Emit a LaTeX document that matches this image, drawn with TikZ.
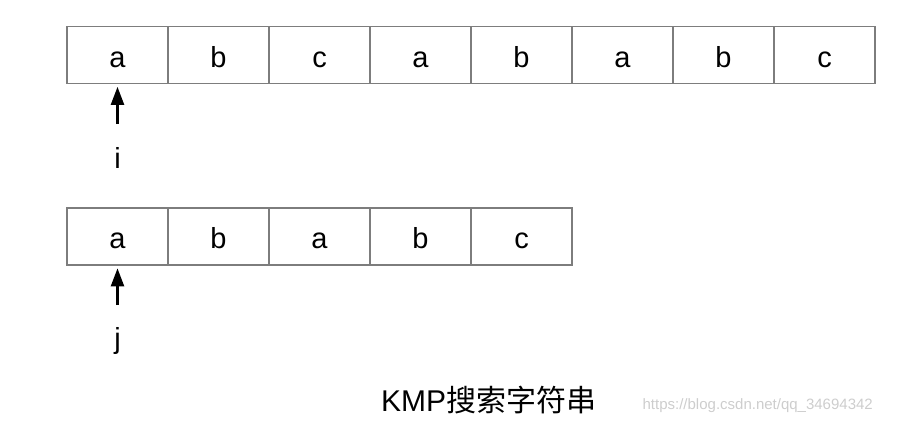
\documentclass[tikz,border=0pt]{standalone}
\usepackage{fontspec}
\setmainfont{Liberation Sans}
\newfontfamily\cjk{Noto Sans CJK SC}
\usetikzlibrary{arrows.meta}
\definecolor{cellgray}{RGB}{125,125,125}
\definecolor{wmgray}{RGB}{205,205,205}
\begin{document}
\begin{tikzpicture}[x=1pt,y=-1pt,
  cell/.style={draw=cellgray,line width=1.7pt,minimum width=101pt,minimum height=57pt,
    inner sep=0pt,text height=24pt,text depth=0pt,font=\fontsize{29}{31}\selectfont},
  ptr/.style={line width=2.3pt,-{Triangle[length=18pt,width=13pt]}},
  lbl/.style={inner sep=0pt,anchor=base,font=\fontsize{29}{31}\selectfont}]
\useasboundingbox (0,0) rectangle (904,434);
% top row
\foreach \t [count=\k from 0] in {a,b,c,a,b,a,b,c}{
  \node[cell] (t\k) at (67+101*\k+50.5,55) {\t};
}
% bottom row
\foreach \t [count=\k from 0] in {a,b,a,b,c}{
  \node[cell] (p\k) at (67+101*\k+50.5,236.5) {\t};
}
\node[lbl] (ilbl) at (117.5,168) {i};
\node[lbl] (jlbl) at (117.5,348) {j};
\coordinate (itail) at (117.5,124);
\coordinate (jtail) at (117.5,305);
\draw[ptr,shorten >=2.5pt] (itail) -- (t0.south);
\draw[ptr,shorten >=2.5pt] (jtail) -- (p0.south);
\node[inner sep=0pt,anchor=base west,font=\fontsize{30}{32}\selectfont] (cap) at (381,411) {KMP{\cjk 搜索字符串}};
\node[inner sep=0pt,anchor=base east,text=wmgray,font=\fontsize{15}{17}\selectfont] (wm) at (873,409) {https://blog.csdn.net/qq\_34694342};
\end{tikzpicture}
\end{document}
